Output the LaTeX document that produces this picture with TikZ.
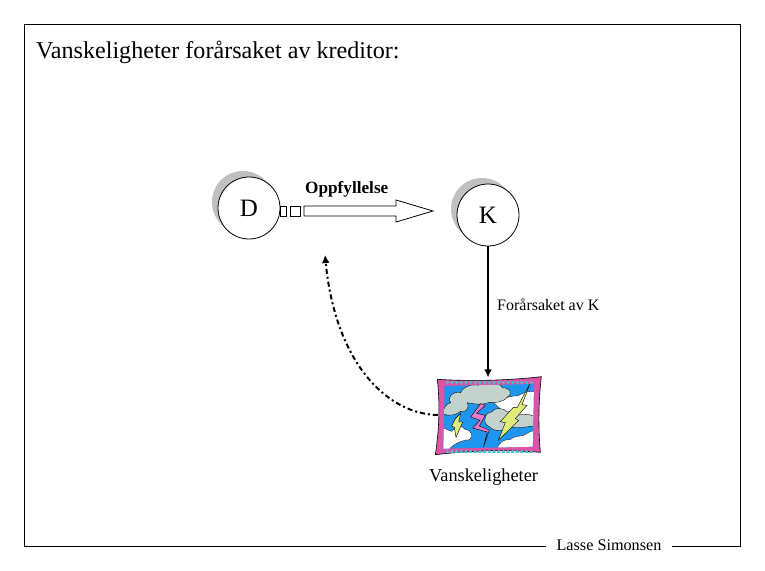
\documentclass[tikz,border=0pt]{standalone}
\usepackage{fontspec}
\setmainfont{Liberation Serif}
\usetikzlibrary{arrows.meta}
\definecolor{shade}{RGB}{192,192,192}
\definecolor{skyb}{RGB}{30,150,240}
\definecolor{pinkb}{RGB}{225,80,165}
\definecolor{teal2}{RGB}{70,195,205}
\definecolor{cloudg}{RGB}{195,210,205}
\definecolor{bolty}{RGB}{225,235,120}
\definecolor{boltp}{RGB}{235,120,200}
\tikzset{
  x=1pt,y=-1pt,
  ball/.style={circle,draw=black,fill=white,line width=0.8pt,minimum size=62pt,inner sep=0pt,font=\fontsize{25}{25}\selectfont},
  ballshade/.style={fill=shade},
  label1/.style={inner sep=0pt,anchor=base west},
  stormcloud/.style={fill=cloudg,draw=black,line width=0.35pt},
  whitecloud/.style={fill=white,draw=black,line width=0.3pt},
  bolt/.style={fill=bolty,draw=black,line width=0.4pt},
  conn/.style={draw=black,line width=2pt,-{Latex[length=8pt,width=8pt]}},
  dashconn/.style={draw=black,line width=2pt,dash pattern=on 5pt off 3pt on 2pt off 3pt,-{Latex[length=8pt,width=8pt]}},
}
\begin{document}
\begin{tikzpicture}
\useasboundingbox (0,0) rectangle (765,570);
\fill[white] (0,0) rectangle (765,570);
\draw[line width=0.9pt] (24,24) rectangle (740,546);
\node[label1,font=\fontsize{24.1}{24}\selectfont] (title) at (36,58) {Vanskeligheter forårsaket av kreditor:};
% shadows
\fill[ballshade] (243,202) circle (31);
\fill[ballshade] (482,209) circle (31);
% arrow
\draw[line width=0.8pt,fill=white] (280,206) rectangle (286,216);
\draw[line width=0.8pt,fill=white] (290,206) rectangle (300,216);
\draw[line width=0.8pt,fill=white] (304,206) -- (396,206) -- (396,200) -- (433,211) -- (396,222) -- (396,216) -- (304,216) -- cycle;
\node[ball] (D) at (249,208) {D};
\node[ball] (K) at (488,215) {K};
\node[label1,font=\fontsize{17.2}{17}\selectfont\bfseries] (opp) at (305,193) {Oppfyllelse};
\node[label1,font=\fontsize{16}{16}\selectfont] (fors) at (497,310) {Forårsaket av K};
\node[label1,font=\fontsize{18.3}{18}\selectfont] (vans) at (429,481) {Vanskeligheter};
% storm picture, drawn in the coordinates of a 3x crop
\begin{scope}[shift={(430,372)},x=0.3333pt,y=-0.3333pt]
\fill[pinkb,draw=black,line width=0.6pt] (22,22) .. controls (120,28) and (230,26) .. (334,14) .. controls (325,90) and (325,170) .. (331,241) .. controls (220,232) and (120,236) .. (16,248) .. controls (28,170) and (30,95) .. (22,22) -- cycle;
\fill[skyb] (44,42) -- (312,36) -- (308,224) -- (40,230) -- cycle;
\begin{scope}
\clip (44,42) -- (312,36) -- (308,224) -- (40,230) -- cycle;
\path[whitecloud] (190,92) .. controls (215,85) and (235,70) .. (262,72) .. controls (285,60) and (300,55) .. (320,60) -- (320,135) -- (240,135) -- cycle;
\path[whitecloud] (35,170) .. controls (48,165) and (58,180) .. (66,178) .. controls (78,160) and (100,160) .. (105,172) .. controls (125,172) and (132,195) .. (118,203) .. controls (95,205) and (70,215) .. (55,235) -- (35,235) -- cycle;
\path[whitecloud] (200,232) .. controls (205,215) and (220,200) .. (240,203) .. controls (250,190) and (280,195) .. (290,185) .. controls (300,178) and (310,175) .. (320,176) -- (320,232) -- cycle;
\path[stormcloud] (38,125) .. controls (40,108) and (48,95) .. (62,92) .. controls (48,75) and (72,55) .. (92,62) .. controls (100,42) and (130,36) .. (145,40) .. controls (170,25) and (210,30) .. (218,48) .. controls (240,46) and (250,65) .. (232,75) .. controls (220,92) and (190,92) .. (175,92) .. controls (155,100) and (130,96) .. (112,92) .. controls (120,108) and (108,122) .. (92,118) .. controls (80,128) and (55,135) .. (38,125) -- cycle;
\path[stormcloud] (165,142) .. controls (165,128) and (175,120) .. (185,120) .. controls (190,106) and (222,106) .. (232,120) .. controls (245,112) and (262,120) .. (264,130) .. controls (285,122) and (310,130) .. (315,135) -- (315,165) .. controls (290,160) and (270,172) .. (245,165) .. controls (225,178) and (190,180) .. (180,165) .. controls (170,162) and (163,152) .. (165,142) -- cycle;
\path[bolt] (300,35) -- (276,98) -- (291,100) -- (256,140) -- (266,145) -- (205,205) -- (226,152) -- (211,149) -- (250,106) -- (262,106) -- cycle;
\path[bolt] (92,124) -- (86,150) -- (98,150) -- (78,196) -- (73,166) -- (65,162) -- (76,140) -- cycle;
\path[fill=boltp,draw=black,line width=0.4pt] (152,95) -- (122,135) -- (150,145) -- (128,168) -- (172,180) -- (160,226) -- (178,174) -- (148,162) -- (166,130) -- (140,124) -- (166,100) -- cycle;
\end{scope}
\foreach \xa in {46,60,...,298}{
  \fill[teal2] (\xa,28) -- (\xa+12,28) -- (\xa+6,38) -- cycle;
  \fill[teal2] (\xa,243) -- (\xa+12,243) -- (\xa+6,232) -- cycle;}
\foreach \ya in {45,57,...,225}{
  \draw[teal2!50!pinkb,line width=0.3pt] (26,\ya) -- (42,\ya+10);
  \draw[teal2!50!pinkb,line width=0.3pt] (311,\ya) -- (328,\ya+10);}
\end{scope}
\node[inner sep=0pt,minimum width=100pt,minimum height=75pt] (storm) at (488,415) {};
% connectors
\draw[conn] (K.south) -- (storm.north);
\coordinate (curveend) at (325,255);
\draw[dashconn] (storm.west) .. controls (385,414) and (335,360) .. (curveend);
% footer
\node[fill=white,inner xsep=10.5pt,inner ysep=4pt,font=\fontsize{16.2}{14}\selectfont] (foot) at (609,545) {Lasse Simonsen};
\end{tikzpicture}
\end{document}
